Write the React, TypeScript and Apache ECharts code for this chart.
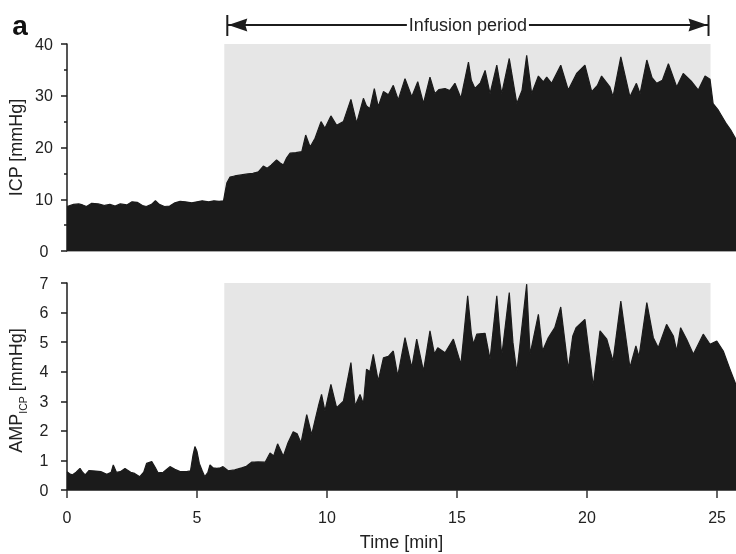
import React, { useEffect, useRef } from "react";
import * as echarts from "echarts";

// ---- data ----
const timeIcp = [
  0, 0.25, 0.45, 0.6, 0.75, 0.95, 1.2, 1.45, 1.65, 1.85, 2.05, 2.3, 2.5, 2.7, 2.9, 3.05, 3.25, 3.4, 3.55, 3.75,
  3.95, 4.15, 4.35, 4.55, 4.8, 5.0, 5.2, 5.45, 5.65, 5.85, 6.02,
  6.08, 6.15, 6.27, 6.45, 6.7, 6.95, 7.15, 7.36, 7.55, 7.7, 7.85, 8.06, 8.2, 8.32, 8.45, 8.58, 8.8, 9.03, 9.18,
  9.35, 9.54, 9.77, 9.92, 10.15, 10.37, 10.63, 10.92, 11.14, 11.4, 11.52, 11.65, 11.82, 11.97, 12.17, 12.36,
  12.55, 12.74, 13.0, 13.26, 13.49, 13.71, 13.96, 14.15, 14.3, 14.54, 14.72, 14.92, 15.15, 15.44, 15.55, 15.69,
  15.9, 16.08, 16.27, 16.53, 16.72, 17.01, 17.3, 17.5, 17.68, 17.87, 18.13, 18.32, 18.45, 18.64, 18.99, 19.28,
  19.6, 19.92, 20.18, 20.4, 20.56, 20.88, 21.0, 21.3, 21.65, 21.9, 22.04, 22.3, 22.5, 22.68, 22.9, 23.13, 23.45,
  23.7, 24.03, 24.28, 24.54, 24.73, 24.85, 25.05, 25.37, 25.55, 25.73,
];
const icpValues = [
  8.6, 9.0, 9.1, 8.9, 8.6, 9.2, 9.1, 8.8, 9.0, 8.7, 9.1, 8.9, 9.5, 9.4, 8.8, 8.6, 9.0, 9.7, 9.0, 8.6,
  8.7, 9.3, 9.6, 9.5, 9.3, 9.5, 9.7, 9.5, 9.7, 9.6, 9.7,
  11.4, 13.2, 14.3, 14.5, 14.7, 14.9, 15.0, 15.3, 16.4, 16.0, 16.6, 17.6, 17.0, 16.6, 18.0, 18.9, 19.0, 19.2, 22.4,
  20.1, 21.8, 25.0, 23.7, 26.1, 24.3, 25.0, 29.3, 24.7, 29.5, 28.0, 27.5, 31.4, 27.9, 30.8, 30.2,
  32.0, 29.2, 33.3, 29.8, 32.7, 28.5, 33.6, 30.4, 31.2, 31.4, 31.0, 32.4, 29.5, 36.5, 33.0, 31.4,
  32.5, 34.9, 30.4, 35.9, 30.4, 37.2, 28.5, 31.0, 37.8, 30.4, 33.8, 32.7, 33.6, 32.4, 35.9, 31.1,
  34.3, 35.9, 30.8, 32.0, 33.8, 31.7, 29.8, 37.5, 29.8, 32.4, 30.4, 36.9, 33.5, 32.4, 33.0, 36.2, 31.7,
  34.3, 32.7, 31.1, 33.8, 33.2, 28.5, 27.2, 24.5, 23.2, 21.6,
];

const timeAmp = [
  0, 0.1, 0.2, 0.35, 0.5, 0.6, 0.7, 0.85, 1.1, 1.3, 1.53, 1.7, 1.78, 1.9, 2.05, 2.23, 2.45, 2.6, 2.8, 2.95,
  3.06, 3.26, 3.4, 3.5, 3.7, 3.96, 4.15, 4.35, 4.6, 4.75, 4.85, 4.92, 5.0, 5.09, 5.2, 5.3, 5.42, 5.5, 5.62,
  5.76, 5.9, 6.0,
  6.2, 6.45, 6.72, 6.9, 7.1, 7.35, 7.62, 7.81, 7.95, 8.1, 8.32, 8.5, 8.7, 8.85, 9.0, 9.22, 9.41, 9.55, 9.67,
  9.79, 9.92, 10.15, 10.37, 10.63, 10.92, 11.08, 11.27, 11.4, 11.52, 11.65, 11.78, 11.97, 12.17, 12.36, 12.55,
  12.72, 13.0, 13.26, 13.45, 13.71, 13.96, 14.13, 14.26, 14.54, 14.86, 15.15, 15.41, 15.55, 15.63, 15.76,
  16.08, 16.27, 16.53, 16.72, 17.01, 17.15, 17.3, 17.68, 17.81, 18.13, 18.29, 18.51, 18.76, 18.99, 19.28,
  19.45, 19.58, 19.92, 20.1, 20.24, 20.5, 20.76, 21.0, 21.3, 21.65, 21.88, 22.0, 22.3, 22.55, 22.74, 23.06,
  23.32, 23.45, 23.6, 23.83, 24.09, 24.47, 24.73, 24.99, 25.24, 25.5, 25.73,
];
const ampValues = [
  0.62, 0.55, 0.51, 0.6, 0.73, 0.6, 0.51, 0.66, 0.64, 0.62, 0.53, 0.6, 0.85, 0.6, 0.62, 0.73, 0.6, 0.56, 0.45, 0.6,
  0.9, 0.96, 0.75, 0.58, 0.6, 0.79, 0.7, 0.62, 0.62, 0.65, 1.2, 1.47, 1.3, 0.9, 0.65, 0.45, 0.6, 0.85, 0.75,
  0.73, 0.75, 0.79,
  0.65, 0.68, 0.75, 0.8, 0.94, 0.95, 0.94, 1.25, 1.15, 1.56, 1.14, 1.6, 1.97, 1.9, 1.59, 2.55, 1.87, 2.4, 2.84,
  3.23, 2.67, 3.57, 2.78, 3.0, 4.31, 2.84, 3.23, 2.91, 4.08, 4.0, 4.59, 3.68, 4.47, 4.52, 4.7,
  3.85, 5.15, 4.14, 5.1, 4.02, 5.38, 4.6, 4.81, 4.64, 5.1, 4.25, 6.57, 5.3, 4.93, 5.27,
  5.3, 4.42, 6.57, 4.53, 6.68, 5.0, 3.97, 6.96, 4.59, 5.94, 4.7, 5.15, 5.49, 6.19, 4.08,
  5.2, 5.49, 5.77, 4.5, 3.51, 5.38, 5.1, 4.36, 6.39, 4.14, 4.87, 4.5, 6.34, 5.15, 4.81, 5.6,
  5.21, 4.7, 5.49, 5.1, 4.59, 5.27, 4.93, 5.04, 4.7, 4.08, 3.55,
];

const infusionPeriod = [6.05, 24.75];
const timeTicks = [0, 5, 10, 15, 20, 25];
const timeMax = 25.73;
const icpRange = [0, 40];
const ampRange = [0, 7];

const FONT = "'Liberation Sans', Arial, Helvetica, sans-serif";
const INK = "#1c1c1c";
const FILL = "#1b1b1b";
const SHADE = "#e5e5e5";

export default function App() {
  const ref = useRef<HTMLDivElement>(null);

  useEffect(() => {
    const chart = echarts.init(ref.current!, null, { renderer: "svg" });
    const icpData = timeIcp.map((t, i) => [t, icpValues[i]]);
    const ampData = timeAmp.map((t, i) => [t, ampValues[i]]);

    const yAxisCommon = (range: number[], interval: number, gridIndex: number, minor: boolean) => ({
      type: "value",
      gridIndex,
      min: range[0],
      max: range[1],
      interval,
      axisLine: { show: true, lineStyle: { color: INK, width: 1.5 } },
      axisTick: { show: true, length: 6, lineStyle: { color: INK, width: 1.5 } },
      minorTick: { show: minor, splitNumber: 2, length: 3, lineStyle: { color: INK, width: 1.5 } },
      minorSplitLine: { show: false },
      splitLine: { show: false },
      axisLabel: { fontSize: 16, color: "#222", fontFamily: FONT, margin: 23, align: "center" },
    });

    const bgSeries = (data: number[][], idx: number, yMax: number, z: number, color: string) => ({
      type: "line",
      xAxisIndex: idx,
      yAxisIndex: idx,
      data,
      symbol: "none",
      silent: true,
      z,
      lineStyle: { opacity: 0 },
      markArea: {
        silent: true,
        itemStyle: { color },
        data: [[{ xAxis: infusionPeriod[0], yAxis: 0 }, { xAxis: infusionPeriod[1], yAxis: yMax }]],
      },
    });

    const mainSeries = (data: number[][], idx: number) => ({
      type: "line",
      xAxisIndex: idx,
      yAxisIndex: idx,
      data,
      symbol: "none",
      silent: true,
      z: 2,
      lineStyle: { color: FILL, width: 1.2 },
      areaStyle: { color: FILL, opacity: 1 },
    });

    chart.setOption({
      animation: false,
      grid: [
        { left: 67, top: 44, width: 669, height: 207, containLabel: false, outerBoundsMode: "none" },
        { left: 67, top: 283, width: 669, height: 207, containLabel: false, outerBoundsMode: "none" },
      ],
      xAxis: [
        {
          type: "value",
          gridIndex: 0,
          min: 0,
          max: timeMax,
          axisLine: { show: true, lineStyle: { color: "#8a8a8a", width: 1.5 } },
          axisTick: { show: false },
          axisLabel: { show: false },
          splitLine: { show: false },
        },
        {
          type: "value",
          gridIndex: 1,
          min: 0,
          max: timeMax,
          axisLine: { show: true, lineStyle: { color: INK, width: 1.5 } },
          axisTick: { show: true, length: 8, customValues: timeTicks, lineStyle: { color: "#333", width: 1.5 } },
          axisLabel: { fontSize: 16, color: "#222", fontFamily: FONT, margin: 19, customValues: timeTicks },
          splitLine: { show: false },
          name: "Time [min]",
          nameLocation: "middle",
          nameGap: 43,
          nameTextStyle: { fontSize: 18, color: "#222", fontFamily: FONT },
        },
      ],
      yAxis: [yAxisCommon(icpRange, 10, 0, true), yAxisCommon(ampRange, 1, 1, false)],
      series: [
        bgSeries(icpData, 0, icpRange[1], 1, SHADE),
        mainSeries(icpData, 0),
        bgSeries(icpData, 0, icpRange[1], 3, "rgba(255,255,255,0.06)"),
        bgSeries(ampData, 1, ampRange[1], 1, SHADE),
        mainSeries(ampData, 1),
        bgSeries(ampData, 1, ampRange[1], 3, "rgba(255,255,255,0.06)"),
      ],
    });

    const [xs, yTop] = chart.convertToPixel({ gridIndex: 0 }, [infusionPeriod[0], icpRange[1]]) as number[];
    const [xe] = chart.convertToPixel({ gridIndex: 0 }, [infusionPeriod[1], icpRange[1]]) as number[];
    const ay = yTop - 19;
    const l = xs + 3;
    const r = xe - 2;
    const headL = 20;
    const headH = 6.5;

    const nameRich = {
      n: { fontSize: 18, lineHeight: 22, verticalAlign: "top", fontFamily: FONT, fill: "#222" },
      s: { fontSize: 10.5, lineHeight: 10, verticalAlign: "bottom", fontFamily: FONT, fill: "#222" },
    };
    const [, icpMid] = chart.convertToPixel({ gridIndex: 0 }, [0, (icpRange[0] + icpRange[1]) / 2]) as number[];
    const [, ampMid] = chart.convertToPixel({ gridIndex: 1 }, [0, (ampRange[0] + ampRange[1]) / 2]) as number[];

    chart.setOption({
      graphic: [
        { type: "line", z: 10, shape: { x1: l, y1: ay, x2: r, y2: ay }, style: { stroke: INK, lineWidth: 2 } },
        { type: "line", z: 10, shape: { x1: l, y1: ay - 10, x2: l, y2: ay + 11 }, style: { stroke: INK, lineWidth: 2 } },
        { type: "line", z: 10, shape: { x1: r, y1: ay - 10, x2: r, y2: ay + 11 }, style: { stroke: INK, lineWidth: 2 } },
        {
          type: "polygon",
          z: 10,
          shape: { points: [[l + 1, ay], [l + headL, ay - headH], [l + headL - 2, ay], [l + headL, ay + headH]] },
          style: { fill: INK },
        },
        {
          type: "polygon",
          z: 10,
          shape: { points: [[r - 1, ay], [r - headL, ay - headH], [r - headL + 2, ay], [r - headL, ay + headH]] },
          style: { fill: INK },
        },
        {
          type: "text",
          z: 11,
          x: (l + r) / 2,
          y: ay,
          style: {
            text: "Infusion period",
            fontSize: 18,
            fontFamily: FONT,
            fill: "#222",
            align: "center",
            verticalAlign: "middle",
            backgroundColor: "#fff",
            padding: [0, 2],
          },
        },
        {
          type: "text",
          z: 11,
          x: 20,
          y: 25,
          style: { text: "a", fontSize: 28, fontWeight: "bold", fontFamily: FONT, fill: "#111", align: "center", verticalAlign: "middle" },
        },
        {
          type: "text",
          z: 11,
          x: 17.5,
          y: icpMid,
          rotation: Math.PI / 2,
          style: { text: "{n|ICP [mmHg]}", rich: nameRich, align: "center", verticalAlign: "middle" },
        },
        {
          type: "text",
          z: 11,
          x: 17.5,
          y: ampMid + 4,
          rotation: Math.PI / 2,
          style: { text: "{n|AMP}{s|ICP}{n| [mmHg]}", rich: nameRich, align: "center", verticalAlign: "middle" },
        },
      ],
    });

    return () => chart.dispose();
  }, []);

  return <div ref={ref} style={{ position: "fixed", left: 0, top: 0, width: 736, height: 554 }} />;
}
